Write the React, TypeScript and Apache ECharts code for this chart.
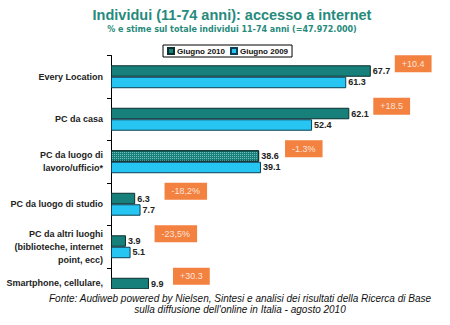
import React, { useEffect, useRef } from "react";
import * as echarts from "echarts";

const categories = [
  "Every Location",
  "PC da casa",
  "PC da luogo di\nlavoro/ufficio*",
  "PC da luogo di studio",
  "PC da altri luoghi\n(biblioteche, internet\npoint, ecc)",
  "Smartphone, cellulare,",
];
const giugno2010 = [67.7, 62.1, 38.6, 6.3, 3.9, 9.9];
const giugno2009: (number | null)[] = [61.3, 52.4, 39.1, 7.7, 5.1, null];
const variations = ["+10.4", "+18.5", "-1.3%", "-18,2%", "-23,5%", "+30.3"];

const titleText = "Individui (11-74 anni): accesso a internet";
const subtitleText = "% e stime sul totale individui 11-74 anni (=47.972.000)";
const footer1 = "Fonte: Audiweb powered by Nielsen, Sintesi e analisi dei risultati della Ricerca di Base";
const footer2 = "sulla diffusione dell'online in Italia - agosto 2010";

const FONT = "Liberation Sans, Arial, sans-serif";
const TEAL = "#17807a";
const CYAN = "#27c6f2";

export default function App() {
  const ref = useRef<HTMLDivElement>(null);
  useEffect(() => {
    if (!ref.current) return;
    const chart = echarts.init(ref.current, undefined, { renderer: "svg" });
    const labelStyle = {
      show: true,
      position: "right" as const,
      distance: 2,
      fontFamily: FONT,
      fontSize: 9,
      fontWeight: "bold" as const,
      color: "#222",
      formatter: (p: any) => (p.value == null ? "" : String(p.value)),
    };
    const lastCat = categories[categories.length - 1];
    chart.setOption({
      animation: false,
      backgroundColor: "#fff",
      textStyle: { fontFamily: FONT },
      legend: {
        data: ["Giugno 2010", "Giugno 2009"],
        left: 163,
        top: 45,
        orient: "horizontal",
        borderColor: "#000",
        borderWidth: 1,
        padding: [2, 4, 2, 4],
        itemWidth: 6,
        itemHeight: 6,
        itemGap: 5,
        icon: "rect",
        textStyle: { fontFamily: FONT, fontSize: 8, fontWeight: "bold", color: "#111", padding: [0, 0, 0, -2] },
      },
      grid: { left: 111, right: 32, top: 55.5, bottom: 14.5, containLabel: false },
      xAxis: { type: "value", min: 0, max: 80, show: false },
      yAxis: {
        type: "category",
        data: categories,
        inverse: true,
        axisLine: { show: true, lineStyle: { color: "#000", width: 1 } },
        axisTick: { show: true, length: 4, lineStyle: { color: "#000" } },
        axisLabel: {
          fontFamily: FONT,
          fontSize: 9,
          fontWeight: "bold",
          color: "#222",
          margin: 8,
          lineHeight: 13,
          align: "right",
          formatter: (v: string) => (v === lastCat ? `{sm|${v}}` : v),
          rich: {
            sm: {
              fontFamily: FONT,
              fontSize: 9,
              fontWeight: "bold",
              color: "#222",
              padding: [0, 0, 12, 0],
            },
          },
        },
        splitLine: { show: false },
      },
      series: [
        {
          name: "Giugno 2010",
          type: "bar",
          barGap: "0%",
          barCategoryGap: "46%",
          itemStyle: { color: TEAL, borderColor: "#0b2f2e", borderWidth: 1 },
          label: labelStyle,
          data: giugno2010.map((v, i) =>
            i === 2
              ? {
                  value: v,
                  itemStyle: {
                    decal: {
                      symbol: "rect",
                      symbolSize: 1,
                      dashArrayX: [1, 1],
                      dashArrayY: [1, 1],
                      color: "rgba(200,240,235,0.55)",
                    },
                  },
                }
              : v
          ),
        },
        {
          name: "Giugno 2009",
          type: "bar",
          itemStyle: { color: CYAN, borderColor: "#0b3f55", borderWidth: 1 },
          label: labelStyle,
          data: giugno2009,
        },
        {
          name: "variazione",
          type: "scatter",
          symbolSize: 0,
          silent: true,
          data: categories.map((c, i) => ({
            value: [Math.max(giugno2010[i], giugno2009[i] ?? 0), i],
            name: variations[i],
          })),
          label: {
            show: true,
            position: "right",
            distance: 0,
            offset: [24, -13],
            formatter: "{b}",
            backgroundColor: "#f0620f",
            color: "#ffffff",
            fontFamily: FONT,
            fontSize: 9,
            padding: [4, 7, 4, 7],
          },
        },
      ],
      graphic: [
        {
          type: "text",
          x: 232,
          y: 15,
          z: 100,
          style: {
            text: titleText,
            fill: "#268a7c",
            font: `bold 14.5px ${FONT}`,
            textAlign: "center",
            textVerticalAlign: "middle",
          },
        },
        {
          type: "text",
          x: 232,
          y: 29,
          z: 100,
          style: {
            text: subtitleText,
            fill: "#268a7c",
            font: `bold 8px DejaVu Sans, Verdana, sans-serif`,
            textAlign: "center",
            textVerticalAlign: "middle",
          },
        },
        {
          type: "rect",
          z: 99,
          shape: { x: 0, y: 289, width: 450, height: 36 },
          style: { fill: "#fff" },
        },
        {
          type: "text",
          x: 240,
          y: 298,
          z: 100,
          style: {
            text: footer1,
            fill: "#111",
            font: `italic 10px ${FONT}`,
            textAlign: "center",
            textVerticalAlign: "middle",
          },
        },
        {
          type: "text",
          x: 240,
          y: 309,
          z: 100,
          style: {
            text: footer2,
            fill: "#111",
            font: `italic 10px ${FONT}`,
            textAlign: "center",
            textVerticalAlign: "middle",
          },
        },
      ],
    });
    return () => chart.dispose();
  }, []);
  return <div ref={ref} style={{ width: 450, height: 325, position: "absolute", left: 0, top: 0 }} />;
}
